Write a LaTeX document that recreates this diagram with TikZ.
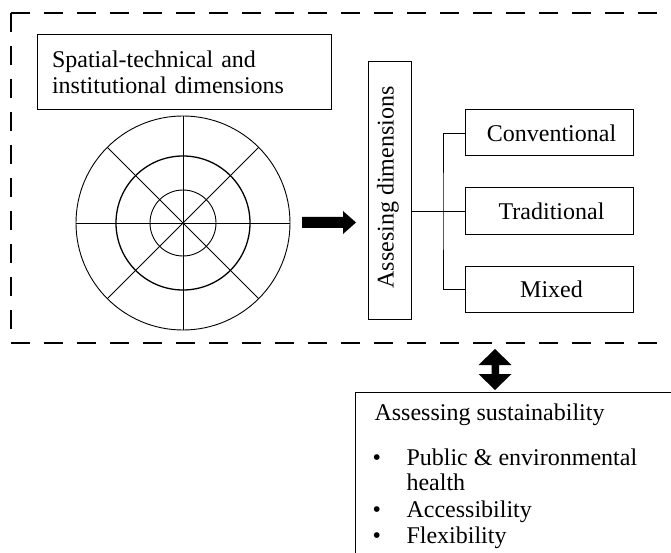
\documentclass[tikz,border=0pt]{standalone}
\usepackage{fontspec}
\setmainfont{Liberation Serif}
\begin{document}
\begin{tikzpicture}[x=1pt,y=-1pt,
  txt/.style={font=\fontsize{24}{26}\selectfont},
  box/.style={draw,line width=1pt,inner sep=0pt,txt},
  dashline/.style={line width=2.4pt,dash pattern=on 19pt off 14pt},
  thin/.style={line width=0.9pt},
  conn/.style={line width=0.9pt}]
\clip (0,0) rectangle (671,553);
\fill[white] (0,0) rectangle (671,553);
% dashed frame
\draw[dashline] (11,13) -- (700,13);
\draw[dashline] (11,13) -- (11,343);
\draw[dashline] (11,343) -- (700,343);
% title box
\node[box,minimum width=294pt,minimum height=75pt,text width=264pt,align=left,inner xsep=15pt] (title) at (184,72.5) {Spatial-technical and\\institutional dimensions};
% wheel
\coordinate (c) at (183,223);
\draw[thin] (c) circle[radius=107pt];
\draw[line width=1.3pt] (c) circle[radius=67pt];
\draw[thin] (c) circle[radius=33pt];
\foreach \a in {0,45,...,315}{\draw[thin] (c) -- ++(\a:107pt);}
% block arrow right
\fill (302,217) -- (343,217) -- (343,211) -- (356,222.5) -- (343,234) -- (343,228) -- (302,228) -- cycle;
% vertical box
\node[box,minimum width=43pt,minimum height=257pt] (vbox) at (389.5,190.5) {};
\node[txt,rotate=90] (vtext) at (388,187.5) {Assesing dimensions};
% option boxes
\node[box,minimum width=168pt,minimum height=46pt] (conv) at (549,133) {\hspace{5pt}Conventional};
\node[box,minimum width=168pt,minimum height=46pt] (trad) at (549,211) {\hspace{5pt}Traditional};
\node[box,minimum width=168pt,minimum height=46pt] (mix) at (549,289) {\hspace{5pt}Mixed};
% connectors
\coordinate (j) at (443,211);
\draw[conn] (vbox.east |- j) -- (j);
\draw[conn] (conv.west) -| (j) |- (mix.west);
\draw[conn] (j) -- (trad.west);
% double arrow
\fill (495,349) -- (511.5,365) -- (499,365) -- (499,374) -- (511.5,374) -- (495,390) -- (478.5,374) -- (491.5,374) -- (491.5,365) -- (478.5,365) -- cycle;
% sustainability box
\node[draw,line width=1.1pt,minimum width=360pt,minimum height=250pt,anchor=north west] (sust) at (355,392) {};
\node[txt,anchor=base west] (sh) at (371,420) {Assessing sustainability};
\node[txt,anchor=base west] (b1) at (369,465) {\textbullet};
\node[txt,anchor=base west] (i1) at (403,465) {Public \& environmental};
\node[txt,anchor=base west] (i1b) at (403,490) {health};
\node[txt,anchor=base west] (b2) at (369,517) {\textbullet};
\node[txt,anchor=base west] (i2) at (403,517) {Accessibility};
\node[txt,anchor=base west] (b3) at (369,543) {\textbullet};
\node[txt,anchor=base west] (i3) at (403,543) {Flexibility};
\end{tikzpicture}
\end{document}
